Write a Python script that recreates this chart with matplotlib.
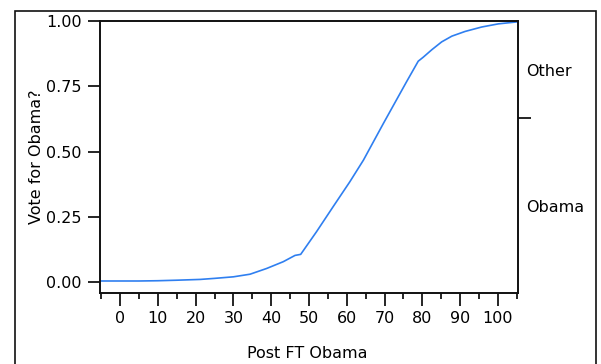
import matplotlib
matplotlib.use("Agg")
import matplotlib.pyplot as plt
from matplotlib.patches import Rectangle
from matplotlib.ticker import FixedLocator, NullFormatter

# fitted probability curve
ft_score = [-5.3, 0, 5, 10, 15, 21.2, 25, 30, 34.4, 38.8, 43.2, 46.3, 47.8,
            52.0, 56.4, 60.8, 64.4, 69.7, 75.8, 78.9, 80.2, 82.5, 85.1,
            87.8, 91.3, 95.7, 100.1, 105.3]
p_obama = [0.004, 0.004, 0.004, 0.005, 0.007, 0.010, 0.014, 0.020, 0.030,
           0.052, 0.078, 0.102, 0.106, 0.193, 0.289, 0.384, 0.467, 0.608,
           0.767, 0.846, 0.861, 0.890, 0.920, 0.942, 0.960, 0.977, 0.989,
           0.997]

categories = ["Obama", "Other"]
boundary = 0.628          # share of "Obama" in the sample
y_lo, y_hi = -0.042, 1.0
x_lo, x_hi = -5.3, 105.3

plt.rcParams["font.family"] = ["DejaVu Sans"]
plt.rcParams["font.size"] = 11.5

fig = plt.figure(figsize=(6.01, 3.64), dpi=100)
ax = fig.add_axes([100 / 601, 1 - 293 / 364, 418 / 601, 272 / 364])

ax.plot(ft_score, p_obama, color="#2f7ff0", lw=1.2,
        solid_capstyle="round", solid_joinstyle="round")

ax.set_xlim(x_lo, x_hi)
ax.set_ylim(y_lo, y_hi)
ax.set_xticks(range(0, 101, 10))
ax.set_xticks(range(-5, 106, 10), minor=True)
ax.set_yticks([0, 0.25, 0.5, 0.75, 1.0])
ax.set_yticklabels(["0.00", "0.25", "0.50", "0.75", "1.00"])
ax.tick_params(axis="x", which="major", length=9, width=1.2, pad=4)
ax.tick_params(axis="x", which="minor", length=4, width=1.2)
ax.tick_params(axis="y", length=9, width=1.2, pad=4)
for s in ax.spines.values():
    s.set_linewidth(1.2)
    s.set_color("#111111")

# category axis on the right
ax2 = ax.twinx()
ax2.set_ylim(y_lo, y_hi)
ax2.yaxis.set_major_locator(FixedLocator([boundary]))
ax2.yaxis.set_major_formatter(NullFormatter())
mids = [(y_lo + boundary) / 2, (boundary + y_hi) / 2]
ax2.set_yticks(mids, minor=True)
ax2.set_yticklabels(categories, minor=True)
ax2.tick_params(axis="y", which="major", length=9, width=1.2)
ax2.tick_params(axis="y", which="minor", length=0, pad=6)
for s in ax2.spines.values():
    s.set_linewidth(1.2)
    s.set_color("#111111")

fig.text(37 / 601, 1 - 157 / 364, "Vote for Obama?", rotation=90,
         ha="center", va="center")
fig.text(307 / 601, 1 - 353 / 364, "Post FT Obama", ha="center", va="center")

# outer frame, open at the bottom
fig.patches.append(Rectangle((15 / 601, -0.2), 581 / 601, 0.2 + 1 - 11 / 364,
                             transform=fig.transFigure, fill=False,
                             lw=1.2, edgecolor="#111111"))

fig.savefig("out.png", dpi=100)
